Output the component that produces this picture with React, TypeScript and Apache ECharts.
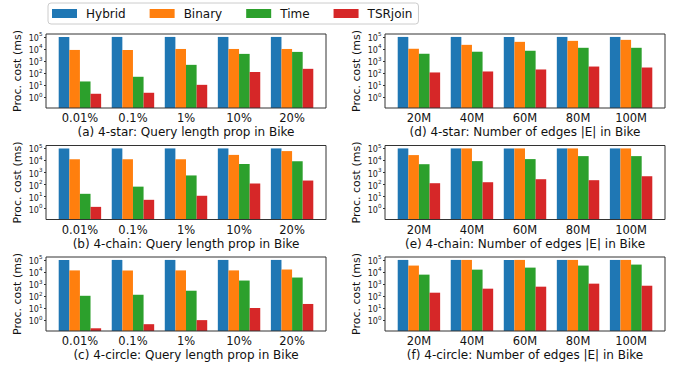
import React, { useEffect, useRef } from 'react';
import * as echarts from 'echarts';

const seriesNames = ['Hybrid', 'Binary', 'Time', 'TSRjoin'];
const colors = ['#1f77b4', '#ff7f0e', '#2ca02c', '#d62728'];

const propCategories = ['0.01%', '0.1%', '1%', '10%', '20%'];
const edgeCategories = ['20M', '40M', '60M', '80M', '100M'];

// (a) 4-star: Query length prop
const aHybrid = [100000, 100000, 100000, 100000, 100000];
const aBinary = [8300, 8300, 10000, 10000, 10000];
const aTime = [20, 49, 480, 3900, 5700];
const aTSRjoin = [1.9, 2.3, 10.5, 125, 224];

// (b) 4-chain: Query length prop
const bHybrid = [100000, 100000, 100000, 100000, 100000];
const bBinary = [12600, 12600, 12600, 29000, 60000];
const bTime = [17, 67, 570, 5100, 8600];
const bTSRjoin = [1.4, 5.4, 11.7, 120, 215];

// (c) 4-circle: Query length prop
const cHybrid = [100000, 100000, 100000, 100000, 100000];
const cBinary = [13500, 13500, 13500, 13500, 16000];
const cTime = [105, 128, 277, 1940, 3450];
const cTSRjoin = [0.21, 0.46, 1.0, 10.2, 22];

// (d) 4-star: Number of edges
const dHybrid = [100000, 100000, 100000, 100000, 100000];
const dBinary = [10400, 22000, 39000, 47000, 57000];
const dTime = [4000, 5900, 7100, 12500, 12500];
const dTSRjoin = [112, 135, 198, 347, 288];

// (e) 4-chain: Number of edges
const eHybrid = [100000, 100000, 100000, 100000, 100000];
const eBinary = [28000, 100000, 100000, 100000, 100000];
const eTime = [4900, 8800, 13000, 23000, 23000];
const eTSRjoin = [129, 156, 277, 230, 490];

// (f) 4-circle: Number of edges
const fHybrid = [100000, 100000, 100000, 100000, 100000];
const fBinary = [34000, 100000, 100000, 100000, 100000];
const fTime = [6000, 15600, 23000, 34000, 41000];
const fTSRjoin = [190, 410, 600, 1070, 720];

const captions = [
  '(a) 4-star: Query length prop in Bike',
  '(b) 4-chain: Query length prop in Bike',
  '(c) 4-circle: Query length prop in Bike',
  '(d) 4-star: Number of edges |E| in Bike',
  '(e) 4-chain: Number of edges |E| in Bike',
  '(f) 4-circle: Number of edges |E| in Bike',
];

const yMin = 0.125;
const yMax = 175000;
const yName = 'Proc. cost (ms)';

const FONT = '"DejaVu Sans", sans-serif';

export default function App() {
  const ref = useRef<HTMLDivElement>(null);
  useEffect(() => {
    if (!ref.current) return;
    const chart = echarts.init(ref.current, undefined, { renderer: 'svg' });

    const panels = [
      { cats: propCategories, data: [aHybrid, aBinary, aTime, aTSRjoin], col: 0, row: 0 },
      { cats: propCategories, data: [bHybrid, bBinary, bTime, bTSRjoin], col: 0, row: 1 },
      { cats: propCategories, data: [cHybrid, cBinary, cTime, cTSRjoin], col: 0, row: 2 },
      { cats: edgeCategories, data: [dHybrid, dBinary, dTime, dTSRjoin], col: 1, row: 0 },
      { cats: edgeCategories, data: [eHybrid, eBinary, eTime, eTSRjoin], col: 1, row: 1 },
      { cats: edgeCategories, data: [fHybrid, fBinary, fTime, fTSRjoin], col: 1, row: 2 },
    ];
    const rowTops = [34, 145.5, 257];
    const rowHeight = 74;
    const colLefts = [46, 385];
    const frameWidth = 280;
    const pad = 7.4;
    const captionTops = [126, 237.5, 349];
    const captionCenters = [186, 525];

    const grid: any[] = [];
    const xAxis: any[] = [];
    const yAxis: any[] = [];
    const series: any[] = [];
    const title: any[] = [];
    const graphic: any[] = [];

    panels.forEach((p, i) => {
      const fl = colLefts[p.col];
      const ft = rowTops[p.row];
      grid.push({
        left: fl + pad,
        top: ft,
        width: frameWidth - 2 * pad,
        height: rowHeight,
        show: false,
      });
      graphic.push({
        type: 'rect',
        z: 100,
        silent: true,
        shape: { x: fl, y: ft, width: frameWidth, height: rowHeight },
        style: { fill: 'none', stroke: '#333', lineWidth: 1 },
      });
      xAxis.push({
        type: 'category',
        gridIndex: i,
        data: p.cats,
        axisLine: { show: false },
        axisTick: { show: false },
        axisLabel: { fontFamily: FONT, fontSize: 11.5, color: '#111', margin: 4 },
      });
      yAxis.push({
        type: 'log',
        logBase: 10,
        gridIndex: i,
        min: yMin,
        max: yMax,
        startValue: yMin,
        offset: pad,
        name: yName,
        nameLocation: 'middle',
        nameGap: 23,
        nameTextStyle: { fontFamily: FONT, fontSize: 11, color: '#111' },
        splitLine: { show: false },
        minorTick: { show: false },
        axisLine: { show: false },
        axisTick: { show: true, length: 2, lineStyle: { color: '#333' } },
        axisLabel: {
          showMinLabel: false,
          showMaxLabel: false,
          margin: 3.5,
          formatter: (v: number) => {
            const e = Math.log10(v);
            const r = Math.round(e);
            if (Math.abs(e - r) > 1e-6) return '';
            return `{b|10}{s|${r}}`;
          },
          rich: {
            b: { fontFamily: FONT, fontSize: 8, color: '#222', lineHeight: 11, verticalAlign: 'bottom' },
            s: { fontFamily: FONT, fontSize: 5.6, color: '#222', lineHeight: 7, verticalAlign: 'top' },
          },
        },
      });
      p.data.forEach((vals, k) => {
        series.push({
          type: 'bar',
          name: seriesNames[k],
          xAxisIndex: i,
          yAxisIndex: i,
          data: vals,
          barGap: '0%',
          barCategoryGap: '20%',
          itemStyle: { color: colors[k] },
        });
      });
      title.push({
        text: captions[i],
        left: captionCenters[p.col],
        top: captionTops[p.row],
        textAlign: 'center',
        padding: 0,
        textStyle: { fontFamily: FONT, fontSize: 12, fontWeight: 'normal', color: '#111' },
      });
    });

    chart.setOption({
      animation: false,
      backgroundColor: '#fff',
      title,
      legend: {
        data: seriesNames,
        left: 48,
        top: 3,
        padding: [4, 6, 4, 4],
        itemWidth: 25,
        itemHeight: 9,
        itemGap: 24,
        icon: 'rect',
        borderColor: '#ccc',
        borderWidth: 1,
        borderRadius: 3,
        textStyle: { fontFamily: FONT, fontSize: 12, color: '#111', padding: [0, 0, 0, 4], lineHeight: 13 },
      },
      grid,
      xAxis,
      yAxis,
      series,
      graphic,
    });
    return () => chart.dispose();
  }, []);
  return <div ref={ref} style={{ width: 683, height: 371, position: 'absolute', left: 0, top: 0 }} />;
}
